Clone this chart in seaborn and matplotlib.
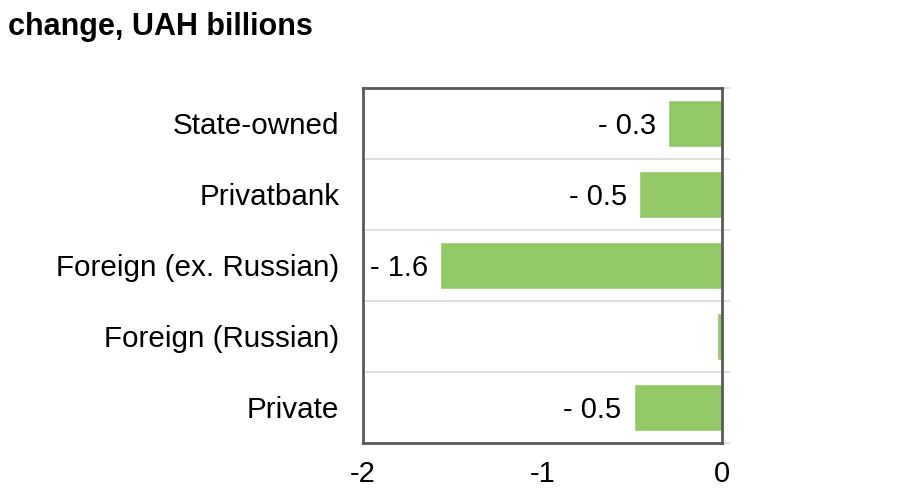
import matplotlib
matplotlib.use("Agg")
import matplotlib.pyplot as plt
import matplotlib.transforms as mtransforms
import seaborn as sns
import pandas as pd

# Monthly change by bank group, UAH billions
groups = ["State-owned", "Privatbank", "Foreign (ex. Russian)", "Foreign (Russian)", "Private"]
change = [-0.3, -0.46, -1.57, -0.03, -0.49]
show_label = [True, True, True, False, True]
x_ticks = [-2, -1, 0]
x_tick_labels = ["-2", "-1", "0"]

df = pd.DataFrame({"group": groups, "change": change})

sns.set_theme(style="white")
plt.rcParams["font.family"] = ["Liberation Sans", "DejaVu Sans"]

fig = plt.figure(figsize=(9.04, 4.91), dpi=100)
ax = fig.add_axes([0.4015, 0.0978, 0.3972, 0.7230])

bar_color = "#92C865"
sns.barplot(data=df, y="group", x="change", orient="h", color=bar_color,
            saturation=1, width=0.66, ax=ax)

ax.set_xlim(-2, 0)
ax.set_ylim(len(groups) - 0.5, -0.5)

# category separators, running slightly past the right-hand axis
trans = mtransforms.blended_transform_factory(ax.transAxes, ax.transData)
for b in [i - 0.5 for i in range(len(groups) + 1)]:
    ax.plot([0, 1.022], [b, b], transform=trans, color="#D9D9D9", lw=1.2,
            clip_on=False, zorder=0.5)

for spine in ax.spines.values():
    spine.set_visible(True)
    spine.set_color("#595959")
    spine.set_linewidth(2)
    spine.set_zorder(5)

ax.set_xticks(x_ticks)
ax.set_xticklabels(x_tick_labels)
ax.tick_params(axis="x", length=0, pad=12, labelsize=21, colors="black")
ax.tick_params(axis="y", length=0, pad=17, labelsize=21.3, colors="black")
ax.set_xlabel("")
ax.set_ylabel("")

# value labels next to the bar ends
for i, (v, show) in enumerate(zip(change, show_label)):
    if show:
        ax.annotate(f"- {abs(v):.1f}", xy=(v, i), xytext=(-9, 0),
                    textcoords="offset points", ha="right", va="center_baseline",
                    fontsize=21, color="black")

fig.text(0.009, 0.945, "change, UAH billions", fontsize=22, fontweight="bold",
         ha="left", va="center", color="black")

fig.savefig("out.png", dpi=100, facecolor="white")
